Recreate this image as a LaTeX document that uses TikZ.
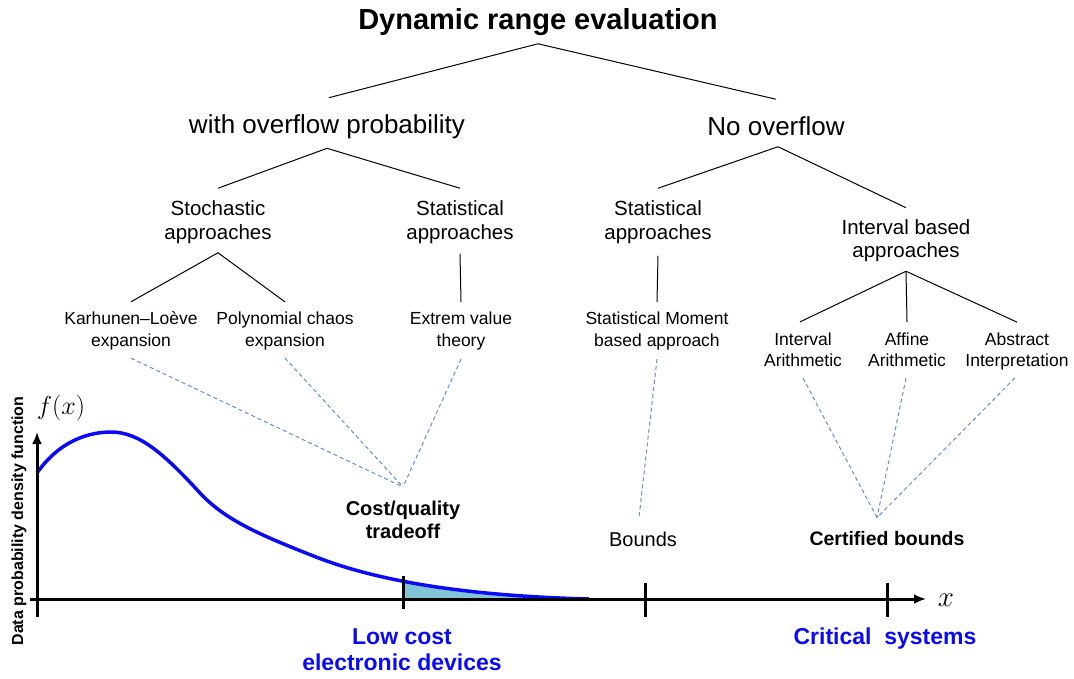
\RequirePackage{fix-cm}
\documentclass[tikz,border=0pt]{standalone}
\usepackage[no-math]{fontspec}
\setmainfont{Liberation Sans}
\usetikzlibrary{arrows.meta}

\definecolor{dashblue}{RGB}{98,142,204}
\definecolor{tailfill}{RGB}{130,196,214}
\definecolor{pdfblue}{RGB}{10,10,245}
\newcommand{\fsz}[2]{\fontsize{#1}{#2}\selectfont}
\newcommand{\densitypath}{(37,473) .. controls (60,440) and (90,432) .. (111,432) .. controls (140,432) and (165,455) .. (200,493) .. controls (225,520) and (260,535) .. (316,557) .. controls (380,582) and (470,596) .. (589,599)}

\begin{document}
\begin{tikzpicture}[x=1pt,y=-1pt,
  every node/.style={inner sep=0pt},
  lvlone/.style={font=\fsz{26}{30}},
  lvltwo/.style={align=center,font=\fsz{20.5}{24}},
  lvlthree/.style={align=center,font=\fsz{17.5}{21.5}},
  outcome/.style={align=center,font=\bfseries\fsz{20}{23}},
  target/.style={align=center,text=pdfblue,font=\bfseries\fsz{23}{26}},
  link/.style={line width=1pt},
  dlink/.style={draw=dashblue,line width=1pt,dash pattern=on 4pt off 3pt},
  axis/.style={line width=3pt}]
\useasboundingbox (0,0) rectangle (1074,679);

% tree
\node[font=\bfseries\fsz{29}{34}](root) at (538,22){Dynamic range evaluation};
\node[lvlone](wop) at (327,127){with overflow probability};
\node[lvlone](nov) at (776,126){No overflow};

\node[lvltwo](stoch) at (218,222){Stochastic\\approaches};
\node[lvltwo](statl) at (460,222){Statistical\\approaches};
\node[lvltwo](statr) at (658,222){Statistical\\approaches};
\node[lvltwo,font=\fsz{20.5}{23}](ivb) at (906,241){Interval based\\approaches};

\node[lvlthree](kl) at (131,331){Karhunen–Loève\\expansion};
\node[lvlthree](pc) at (285,331){Polynomial chaos\\expansion};
\node[lvlthree](ev) at (461,331){Extrem value\\theory};
\node[lvlthree](sm) at (657,331){Statistical Moment\\based approach};
\node[lvlthree,font=\fsz{17.5}{21}](ia) at (803,350){Interval\\Arithmetic};
\node[lvlthree,font=\fsz{17.5}{21}](aa) at (907,350){Affine\\Arithmetic};
\node[lvlthree,font=\fsz{17.5}{21}](ai) at (1017,351){Abstract\\Interpretation};

\path[link] ([yshift=-8pt]root.south) edge ([xshift=2pt,yshift=17pt]wop.north);
\path[link] ([yshift=-8pt]root.south) edge ([yshift=17pt]nov.north);
\path[link] ([yshift=-9pt]wop.south) edge ([yshift=12pt]stoch.north);
\path[link] ([yshift=-9pt]wop.south) edge ([yshift=12pt]statl.north);
\path[link] ([xshift=2pt,yshift=-11pt]nov.south) edge ([yshift=12pt]statr.north);
\path[link] ([xshift=2pt,yshift=-11pt]nov.south) edge ([yshift=12pt]ivb.north);
\path[link] ([yshift=-9pt]stoch.south) edge ([yshift=10pt]kl.north);
\path[link] ([yshift=-9pt]stoch.south) edge ([yshift=10pt]pc.north);
\path[link] ([yshift=-10pt]statl.south) edge ([yshift=10pt]ev.north);
\path[link] ([yshift=-12pt]statr.south) edge ([yshift=10pt]sm.north);
\path[link] ([yshift=-9pt]ivb.south) edge ([xshift=-3pt,yshift=11pt]ia.north);
\path[link] ([yshift=-9pt]ivb.south) edge ([yshift=11pt]aa.north);
\path[link] ([yshift=-9pt]ivb.south) edge ([yshift=10pt]ai.north);

% outcomes
\node[outcome](cq) at (403,520){Cost/quality\\tradeoff};
\node[font=\fsz{20}{24}](bnd) at (643,539){Bounds};
\node[outcome,font=\bfseries\fsz{19.5}{23}](cb) at (887,539){Certified bounds};

\path[dlink] ([yshift=-8pt]kl.south) edge ([yshift=14pt]cq.north);
\path[dlink] ([yshift=-8pt]pc.south) edge ([yshift=14pt]cq.north);
\path[dlink] ([yshift=-9pt]ev.south) edge ([yshift=14pt]cq.north);
\path[dlink] ([yshift=-9pt]sm.south) edge ([xshift=-4pt,yshift=14pt]bnd.north);
\path[dlink] ([yshift=-11pt]ia.south) edge ([xshift=-10pt,yshift=14pt]cb.north);
\path[dlink] ([xshift=-1pt,yshift=-11pt]aa.south) edge ([xshift=-10pt,yshift=14pt]cb.north);
\path[dlink] ([xshift=-2pt,yshift=-8pt]ai.south) edge ([xshift=-10pt,yshift=14pt]cb.north);

% density plot
\begin{scope}
\clip (403,560) rectangle (600,599);
\fill[tailfill] \densitypath -- (37,599) -- cycle;
\end{scope}
\draw[pdfblue,line width=3.5pt] \densitypath;

\coordinate (orig) at (37,599);
\coordinate (xend) at (926,599);
\coordinate (yend) at (37,432);
\draw[axis,-{Latex[length=12pt,width=10pt]}] ([xshift=-7pt]orig) -- (xend);
\draw[axis,-{Latex[length=12pt,width=10pt]}] ([yshift=-18pt]orig) -- (yend);
\draw[axis] (403,576) -- (403,609);
\draw[axis] (645,583) -- (645,617);
\draw[axis] (887,583) -- (887,617);

\node[font=\fsz{26}{30}](fx) at (61,408){$f(x)$};
\node[font=\fsz{29}{32}](xl) at (946,600){$x$};
\node[rotate=90,font=\bfseries\fsz{16}{19}](ylab) at (19,521){Data probability density function};

\node[target](lc) at (402,650){Low cost\\electronic devices};
\node[target](cs) at (885,639){Critical\ \ systems};
\end{tikzpicture}
\end{document}
